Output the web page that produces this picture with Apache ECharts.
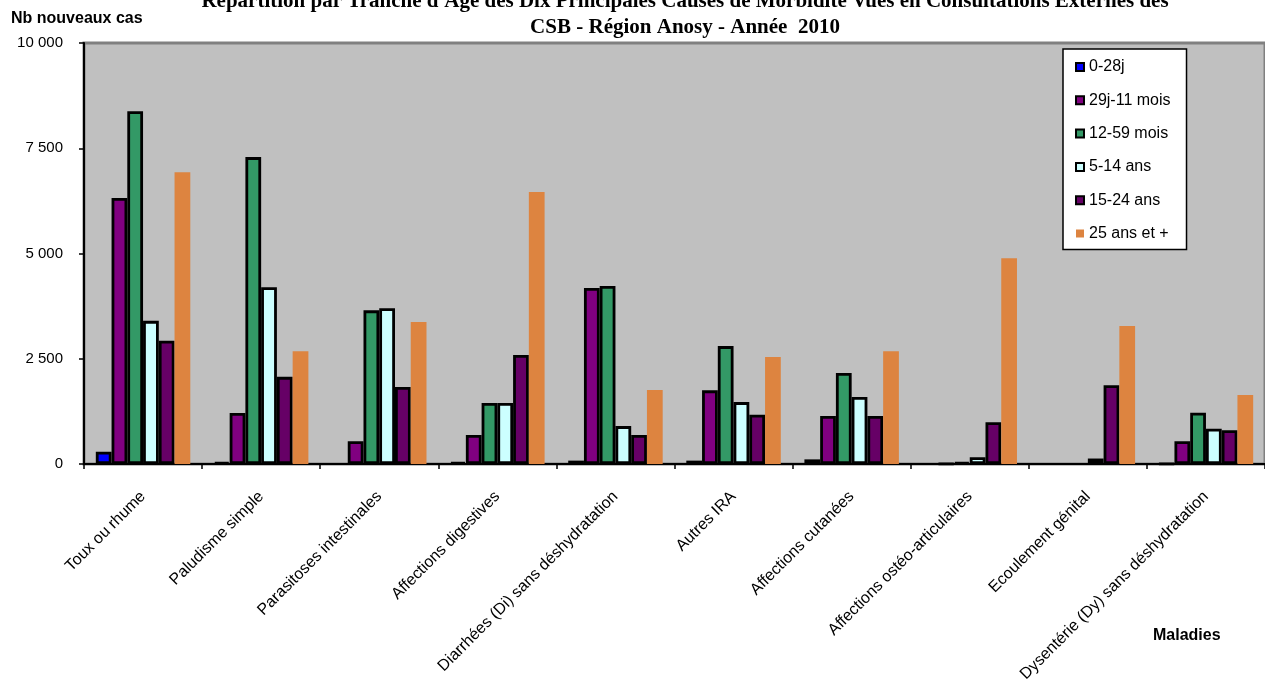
<!DOCTYPE html>
<html>
<head>
<meta charset="utf-8">
<script src="https://cdn.jsdelivr.net/npm/echarts@6/dist/echarts.min.js"></script>
<style>
html,body{margin:0;padding:0;background:#fff;}
#chart{width:1265px;height:695px;}
</style>
</head>
<body>
<div id="chart"></div>
<script>
const categories = ['Toux ou rhume','Paludisme simple','Parasitoses intestinales','Affections digestives','Diarrhées (Di) sans déshydratation','Autres IRA','Affections cutanées','Affections ostéo-articulaires','Ecoulement génital','Dysentérie (Dy) sans déshydratation'];
const seriesNames = ['0-28j','29j-11 mois','12-59 mois','5-14 ans','15-24 ans','25 ans et +'];
const v0_28j     = [290, 40, 0, 40, 80, 80, 110, 0, 0, 10];
const v29j_11m   = [6320, 1210, 540, 690, 4180, 1750, 1140, 10, 0, 540];
const v12_59m    = [8380, 7290, 3650, 1450, 4230, 2800, 2160, 40, 0, 1220];
const v5_14a     = [3400, 4200, 3700, 1450, 900, 1470, 1590, 160, 130, 840];
const v15_24a    = [2930, 2070, 1830, 2590, 690, 1170, 1140, 990, 1870, 800];
const v25plus    = [6930, 2680, 3370, 6460, 1760, 2540, 2680, 4890, 3280, 1640];
const yTickLabels = ['0','2 500','5 000','7 500','10 000'];
const yMin = 0, yMax = 10000, yStep = 2500;

const allValues = [v0_28j, v29j_11m, v12_59m, v5_14a, v15_24a, v25plus];
const colors = ['#0000FF','#800080','#339966','#CCFFFF','#660066','#DD8440'];
const bordered = [true,true,true,true,true,false];

const chart = echarts.init(document.getElementById('chart'));
const series = seriesNames.map((name,i)=>({
  name: name,
  type: 'bar',
  barGap: '0%',
  barCategoryGap: '20%',
  data: allValues[i].map(v => v === 0 ? null : v),
  itemStyle: {
    color: colors[i],
    borderColor: '#000',
    borderWidth: bordered[i] ? 2.8 : 0
  },
  emphasis: {disabled: true},
  animation: false
}));

chart.setOption({
  animation: false,
  backgroundColor: '#fff',
  textStyle: {fontFamily: '"Liberation Sans", Arial, sans-serif'},
  grid: {
    left: 84, top: 43, width: 1190, height: 421,
    show: true, backgroundColor: '#C0C0C0', borderColor: '#808080', borderWidth: 3
  },
  legend: {
    orient: 'vertical',
    left: 1063, top: 49,
    backgroundColor: '#fff',
    borderColor: '#000',
    borderWidth: 1.5,
    borderRadius: 0,
    padding: [10, 16, 8, 12],
    itemGap: 17.3,
    itemWidth: 8,
    itemHeight: 8,
    textStyle: {fontSize: 16, color: '#000', lineHeight: 16, fontFamily: '"Liberation Sans", Arial, sans-serif'},
    data: seriesNames.map((n,i)=>({
      name: n, icon: 'rect',
      itemStyle: {color: colors[i], borderColor: '#000', borderWidth: bordered[i] ? 2 : 0}
    }))
  },
  xAxis: {
    type: 'category',
    data: categories,
    axisLine: {lineStyle: {color: '#000', width: 2}},
    axisTick: {show: true, length: 5, lineStyle: {color: '#000', width: 1.5}},
    axisLabel: {interval: 0, rotate: 45, margin: 30, fontSize: 16, color: '#000'},
    splitLine: {show: false}
  },
  yAxis: {
    type: 'value',
    min: yMin, max: yMax, interval: yStep,
    axisLine: {show: true, lineStyle: {color: '#000', width: 2}},
    axisTick: {show: true, length: 5, lineStyle: {color: '#000', width: 1.5}},
    axisLabel: {
      margin: 21, fontSize: 15, color: '#000',
      formatter: v => yTickLabels[Math.round((v - yMin)/yStep)]
    },
    splitLine: {show: false}
  },
  graphic: [
    {type:'text', x: 685, y: 2, style:{text:"Répartition par Tranche d'Age des Dix Principales Causes de Morbidité Vues en Consultations Externes des", font:'bold 21px "Liberation Serif", "Times New Roman", serif', textAlign:'center', textVerticalAlign:'middle', fill:'#000'}},
    {type:'text', x: 685, y: 28, style:{text:'CSB - Région Anosy - Année  2010', font:'bold 21px "Liberation Serif", "Times New Roman", serif', textAlign:'center', textVerticalAlign:'middle', fill:'#000'}},
    {type:'text', x: 11, y: 19, style:{text:'Nb nouveaux cas', font:'bold 16px "Liberation Sans", Arial, sans-serif', textAlign:'left', textVerticalAlign:'middle', fill:'#000'}},
    {type:'text', x: 1153, y: 636, style:{text:'Maladies', font:'bold 16px "Liberation Sans", Arial, sans-serif', textAlign:'left', textVerticalAlign:'middle', fill:'#000'}}
  ],
  series: series
});
</script>
</body>
</html>
